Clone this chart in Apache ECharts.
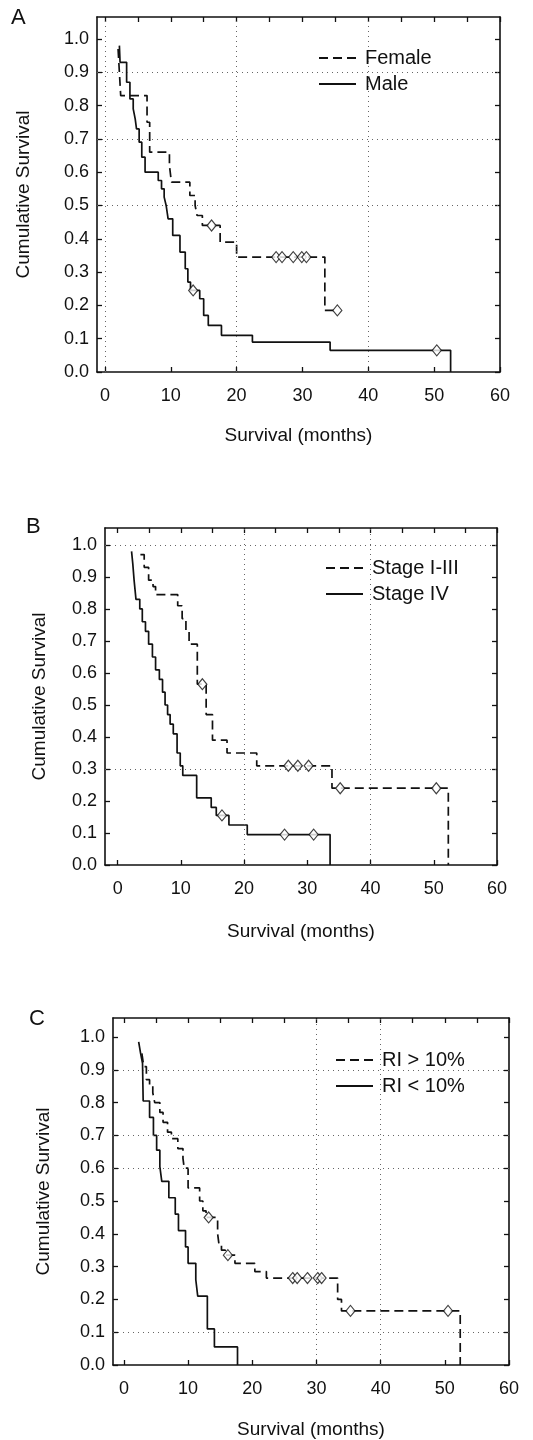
<!DOCTYPE html>
<html>
<head>
<meta charset="utf-8">
<style>
  html, body { margin: 0; padding: 0; background: #fff; }
  #chart { width: 533px; height: 1440px; }
</style>
<script src="https://cdn.jsdelivr.net/npm/echarts@6/dist/echarts.min.js"></script>
</head>
<body>
<div id="chart"></div>
<script>
// Kaplan-Meier step curves: [month, cumulative survival] after each event
const femaleSteps = [[2.0,0.97],[2.2,0.90],[2.4,0.83],[6.4,0.75],[6.8,0.66],[9.8,0.62],[10.1,0.57],[12.9,0.53],[13.7,0.50],[14.0,0.47],[14.8,0.44],[17.5,0.39],[20.0,0.345],[33.4,0.185],[35.3,0.185]];
const femaleCensored = [[16.2,0.44],[26.0,0.345],[26.9,0.345],[28.6,0.345],[29.9,0.345],[30.6,0.345],[35.3,0.185]];
const maleSteps = [[2.2,0.98],[2.3,0.93],[3.3,0.87],[3.8,0.82],[4.3,0.79],[4.6,0.76],[4.8,0.73],[5.2,0.69],[5.6,0.645],[6.1,0.60],[8.1,0.575],[8.6,0.55],[9.0,0.525],[9.3,0.50],[9.6,0.46],[10.3,0.41],[11.4,0.36],[12.2,0.31],[12.6,0.27],[13.0,0.245],[14.4,0.22],[15.0,0.17],[15.7,0.14],[17.7,0.11],[22.4,0.09],[34.2,0.065],[52.5,0.0]];
const maleCensored = [[13.4,0.245],[50.4,0.065]];

const stage13Steps = [[3.6,0.97],[4.2,0.93],[4.9,0.89],[5.6,0.87],[6.0,0.845],[9.5,0.81],[10.2,0.77],[10.8,0.73],[11.3,0.69],[12.6,0.565],[14.0,0.47],[15.0,0.39],[17.3,0.35],[22.0,0.31],[33.9,0.24],[52.3,0.0]];
const stage13Censored = [[13.4,0.565],[27.0,0.31],[28.5,0.31],[30.2,0.31],[35.2,0.24],[50.4,0.24]];
const stage4Steps = [[2.2,0.98],[2.4,0.94],[2.6,0.89],[2.9,0.83],[3.5,0.80],[3.9,0.76],[4.4,0.73],[4.9,0.69],[5.5,0.65],[6.0,0.61],[6.6,0.58],[7.1,0.54],[7.5,0.50],[7.9,0.47],[8.3,0.44],[8.8,0.41],[9.4,0.35],[9.9,0.31],[10.3,0.28],[12.5,0.21],[14.8,0.18],[15.6,0.155],[17.6,0.125],[20.5,0.095],[33.6,0.0]];
const stage4Censored = [[16.5,0.155],[26.4,0.095],[31.0,0.095]];

const riHighSteps = [[2.8,0.95],[3.1,0.91],[3.5,0.87],[4.0,0.85],[4.5,0.83],[4.8,0.80],[5.6,0.77],[6.1,0.74],[6.8,0.71],[7.4,0.69],[8.4,0.66],[9.2,0.63],[9.4,0.60],[10.0,0.54],[11.8,0.50],[12.3,0.47],[12.8,0.45],[14.6,0.40],[14.8,0.37],[15.2,0.35],[15.8,0.335],[17.3,0.31],[20.4,0.285],[22.2,0.265],[33.3,0.20],[33.9,0.165],[52.4,0.0]];
const riHighCensored = [[13.2,0.45],[16.2,0.335],[26.3,0.265],[27.0,0.265],[28.6,0.265],[30.2,0.265],[30.8,0.265],[35.3,0.165],[50.5,0.165]];
const riLowSteps = [[2.3,0.985],[2.6,0.95],[2.9,0.92],[3.0,0.805],[4.0,0.755],[4.6,0.70],[5.1,0.655],[5.6,0.605],[5.9,0.56],[7.0,0.51],[8.0,0.46],[8.5,0.41],[9.6,0.36],[10.0,0.31],[11.2,0.26],[11.5,0.21],[13.0,0.11],[14.1,0.055],[17.7,0.0]];
const riLowCensored = [];

// Tick values
const xTicks = [0, 10, 20, 30, 40, 50, 60];
const xMinorTicks = [0, 5, 10, 15, 20, 25, 30, 35, 40, 45, 50, 55, 60];
const yTicks = [0.0, 0.1, 0.2, 0.3, 0.4, 0.5, 0.6, 0.7, 0.8, 0.9, 1.0];

// Dotted reference lines in each panel
const gridA = { x: [0, 20, 40], y: [0.5, 0.7, 0.9] };
const gridB = { x: [20, 40], y: [0.3, 1.0] };
const gridC = { x: [30, 40], y: [0.1, 0.6, 0.7, 0.9] };

const panels = [
  { letter: 'A', box: { left: 97, top: 17, width: 403, height: 355 }, xMin: -1.2, yMax: 1.066,
    dashed: { name: 'Female', steps: femaleSteps, cens: femaleCensored },
    solid: { name: 'Male', steps: maleSteps, cens: maleCensored },
    grid: gridA, letterPos: [11, 7], legendPos: [313, 43], yNameGap: 64, xNameGap: 54 },
  { letter: 'B', box: { left: 105, top: 528, width: 392, height: 337 }, xMin: -2.0, yMax: 1.053,
    dashed: { name: 'Stage I-III', steps: stage13Steps, cens: stage13Censored },
    solid: { name: 'Stage IV', steps: stage4Steps, cens: stage4Censored },
    grid: gridB, letterPos: [26, 516], legendPos: [320, 553], yNameGap: 56, xNameGap: 57 },
  { letter: 'C', box: { left: 113, top: 1018, width: 396, height: 347 }, xMin: -1.7, yMax: 1.058,
    dashed: { name: 'RI > 10%', steps: riHighSteps, cens: riHighCensored },
    solid: { name: 'RI < 10%', steps: riLowSteps, cens: riLowCensored },
    grid: gridC, letterPos: [29, 1008], legendPos: [330, 1045], yNameGap: 60, xNameGap: 55 }
];

const FONT = '"Liberation Sans", Arial, Helvetica, sans-serif';
const INK = '#111';
const axisLine = { show: true, onZero: false, lineStyle: { color: INK, width: 1.6 } };

const grids = [], xAxes = [], yAxes = [], series = [], legends = [], graphics = [];

panels.forEach((p, i) => {
  grids.push(Object.assign({ containLabel: false }, p.box));
  const xi = i * 2, yi = i * 2;
  // bottom axis with labels
  xAxes.push({
    gridIndex: i, type: 'value', position: 'bottom', min: p.xMin, max: 60,
    axisLine: axisLine,
    axisTick: { show: true, inside: true, length: 5, customValues: xTicks, lineStyle: { color: INK, width: 1.3 } },
    axisLabel: { customValues: xTicks, margin: 15, fontSize: 18, fontFamily: FONT, color: INK },
    splitLine: { show: false },
    name: 'Survival (months)', nameLocation: 'middle', nameGap: p.xNameGap,
    nameTextStyle: { fontSize: 19, fontFamily: FONT, color: INK }
  });
  // top frame axis with 5-month ticks
  xAxes.push({
    gridIndex: i, type: 'value', position: 'top', min: p.xMin, max: 60,
    axisLine: axisLine,
    axisTick: { show: true, inside: true, length: 5, customValues: xMinorTicks, lineStyle: { color: INK, width: 1.3 } },
    axisLabel: { show: false }, splitLine: { show: false }
  });
  yAxes.push({
    gridIndex: i, type: 'value', position: 'left', min: 0, max: p.yMax,
    axisLine: axisLine,
    axisTick: { show: true, inside: true, length: 5, customValues: yTicks, lineStyle: { color: INK, width: 1.3 } },
    axisLabel: { customValues: yTicks, margin: 8, fontSize: 18, fontFamily: FONT, color: INK,
      formatter: v => v.toFixed(1) },
    splitLine: { show: false },
    name: 'Cumulative Survival', nameLocation: 'middle', nameGap: p.yNameGap, nameRotate: 90,
    nameTextStyle: { fontSize: 19, fontFamily: FONT, color: INK }
  });
  yAxes.push({
    gridIndex: i, type: 'value', position: 'right', min: 0, max: p.yMax,
    axisLine: axisLine,
    axisTick: { show: true, inside: true, length: 5, customValues: yTicks, lineStyle: { color: INK, width: 1.3 } },
    axisLabel: { show: false }, splitLine: { show: false }
  });

  // dotted reference lines
  series.push({
    type: 'line', xAxisIndex: xi, yAxisIndex: yi, data: [], silent: true,
    markLine: {
      silent: true, symbol: 'none', label: { show: false },
      lineStyle: { color: '#666', width: 1, type: [1, 4] },
      data: p.grid.x.map(v => ({ xAxis: v })).concat(p.grid.y.map(v => ({ yAxis: v })))
    }
  });

  [['dashed', [9, 5]], ['solid', 'solid']].forEach(([key, dash]) => {
    const g = p[key];
    series.push({
      name: g.name, type: 'line', step: 'end', xAxisIndex: xi, yAxisIndex: yi,
      data: g.steps, symbol: 'none', z: 3,
      lineStyle: { color: INK, width: 1.7, type: dash },
      itemStyle: { color: INK }
    });
    series.push({
      name: g.name + ' censored', type: 'scatter', xAxisIndex: xi, yAxisIndex: yi,
      data: g.cens, symbol: 'diamond', symbolSize: [9, 11], z: 4,
      itemStyle: { color: '#fff', borderColor: INK, borderWidth: 1.2 }
    });
  });

  legends.push({
    orient: 'vertical', left: p.legendPos[0], top: p.legendPos[1],
    data: [p.dashed.name, p.solid.name],
    itemWidth: 37, itemHeight: 14, itemGap: 6, selectedMode: false,
    itemStyle: { opacity: 0 },
    textStyle: { fontSize: 20, fontFamily: FONT, color: INK, padding: [0, 0, 0, 4] }
  });

  graphics.push({
    type: 'text', left: p.letterPos[0], top: p.letterPos[1],
    style: { text: p.letter, font: '22px ' + FONT, fill: INK }
  });
});

const chart = echarts.init(document.getElementById('chart'), null, { renderer: 'canvas' });
chart.setOption({
  animation: false,
  backgroundColor: '#fff',
  grid: grids, xAxis: xAxes, yAxis: yAxes,
  legend: legends, series: series, graphic: graphics
});
</script>
</body>
</html>
